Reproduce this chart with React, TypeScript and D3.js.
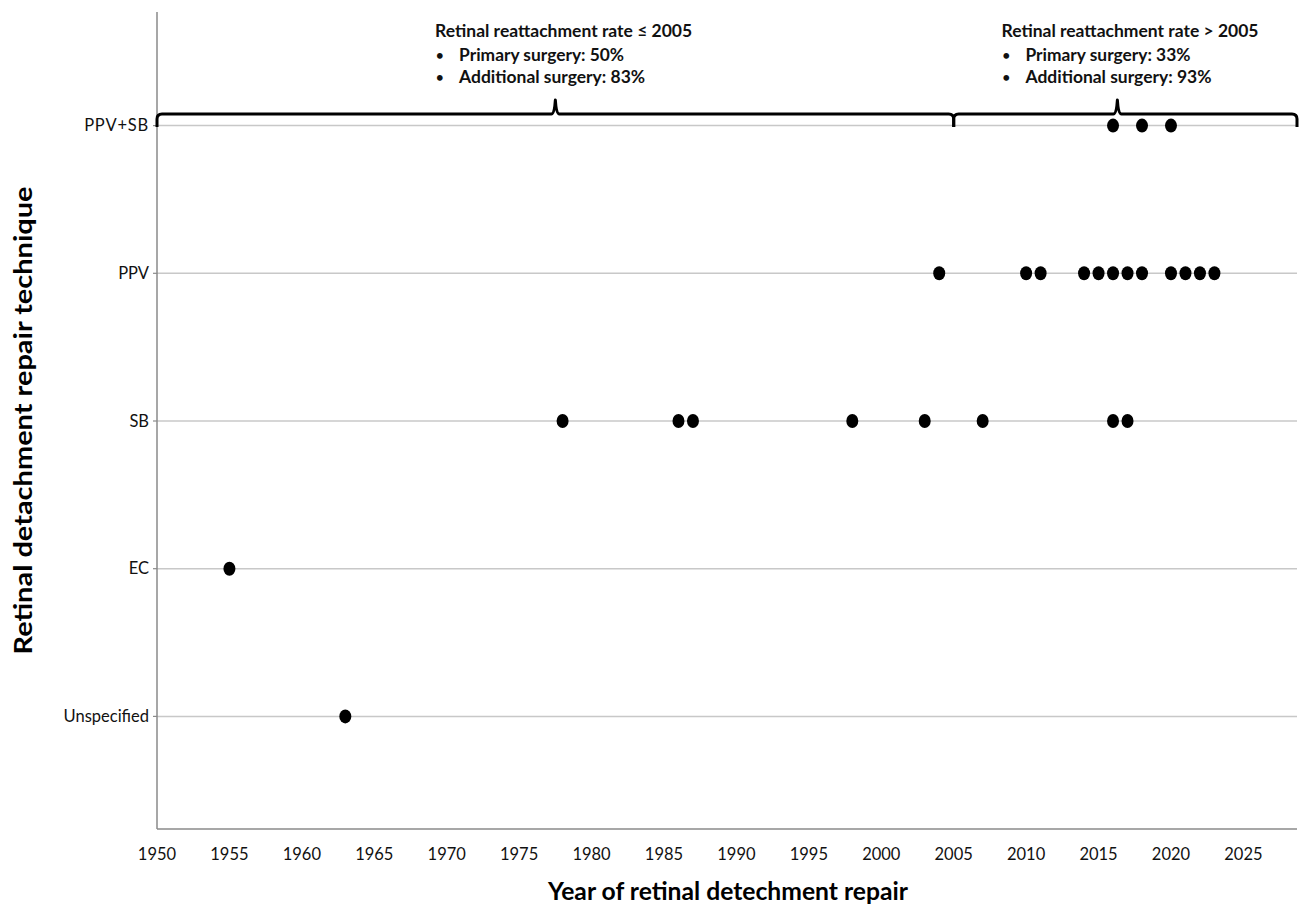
import React from "react";
import * as d3 from "d3";

const categories = ["PPV+SB", "PPV", "SB", "EC", "Unspecified"];
const ppvSbYears = [2016, 2018, 2020];
const ppvYears = [2004, 2010, 2011, 2014, 2015, 2016, 2017, 2018, 2020, 2021, 2022, 2023];
const sbYears = [1978, 1986, 1987, 1998, 2003, 2007, 2016, 2017];
const ecYears = [1955];
const unspecifiedYears = [1963];
const seriesYears = [ppvSbYears, ppvYears, sbYears, ecYears, unspecifiedYears];
const xTicks = d3.range(1950, 2026, 5);

const braceFrom = [1950, 2005];
const braceTo = [2005, 2028.7];
const bracePeak = [1977.5, 2016.3];
const braceTitles = ["Retinal reattachment rate \u2264 2005", "Retinal reattachment rate > 2005"];
const braceBullets = [
  ["Primary surgery: 50%", "Additional surgery: 83%"],
  ["Primary surgery: 33%", "Additional surgery: 93%"],
];
const textStartYears = [1969.2, 2008.3];

const W = 1299, H = 913;
const FONT = "Lato, 'Open Sans', sans-serif";

export default function App() {
  const x = d3.scaleLinear().domain([1950, 2028.7]).range([157, 1297]);
  const y = d3.scalePoint<string>().domain(categories).range([125.6, 716.4]);
  const axisTop = 12, axisBottom = 829;

  const bracePath = (i: number) => {
    const x0 = x(braceFrom[i]), x1 = x(braceTo[i]), p = x(bracePeak[i]);
    const yl = 114, ye = 127, yp = 100;
    const r = 5;
    return `M${x0},${ye} L${x0},${yl + r} Q${x0},${yl} ${x0 + r},${yl} L${p - 4},${yl} Q${p - 1},${yl} ${p},${yp} Q${p + 1},${yl} ${p + 4},${yl} L${x1 - r},${yl} Q${x1},${yl} ${x1},${yl + r} L${x1},${ye}`;
  };

  const bulletLens = [165, 186];

  return (
    <svg width={W} height={H} style={{ position: "absolute", left: 0, top: 0, background: "#fff" }} fontFamily={FONT}>
      {/* gridlines */}
      {categories.map((c) => (
        <line key={c} x1={x(1950)} x2={x(2028.7)} y1={y(c)} y2={y(c)} stroke="#c8c8c8" strokeWidth={1.5} />
      ))}
      {/* axes */}
      <line x1={x(1950)} x2={x(1950)} y1={axisTop} y2={axisBottom} stroke="#8a8a8a" strokeWidth={1.5} />
      <line x1={x(1950)} x2={x(2028.7)} y1={axisBottom} y2={axisBottom} stroke="#8a8a8a" strokeWidth={1.5} />
      {categories.map((c) => (
        <g key={"t" + c}>
          <line x1={x(1950) - 4} x2={x(1950)} y1={y(c)} y2={y(c)} stroke="#8a8a8a" strokeWidth={1.2} />
          <text x={x(1950) - 8} y={y(c)} dy="0.35em" textAnchor="end" fontSize={16.5} fill="#111" letterSpacing={c === "PPV+SB" ? 0.8 : 0}>{c}</text>
        </g>
      ))}
      {xTicks.map((t) => (
        <text key={t} x={x(t)} y={854} dy="0.35em" textAnchor="middle" fontSize={16.5} fill="#111">{t}</text>
      ))}
      {/* dots */}
      {categories.map((c, i) =>
        seriesYears[i].map((yr, j) => (
          <ellipse key={c + j} cx={x(yr)} cy={y(c)} rx={6} ry={7} fill="#000" />
        ))
      )}
      {/* braces */}
      {[0, 1].map((i) => (
        <g key={"b" + i}>
          <path d={bracePath(i)} fill="none" stroke="#000" strokeWidth={3} strokeLinejoin="round" />
          <text x={x(textStartYears[i])} y={31} dy="0.35em" fontSize={16.5} fontWeight={700} fill="#111" textLength={257} lengthAdjust="spacingAndGlyphs">{braceTitles[i]}</text>
          {braceBullets[i].map((b, k) => (
            <g key={k}>
              <text x={x(textStartYears[i]) + 1} y={55 + k * 22} dy="0.35em" fontSize={13} fontWeight={700} fill="#111">•</text>
              <text x={x(textStartYears[i]) + 24} y={55 + k * 22} dy="0.35em" fontSize={16.5} fontWeight={700} fill="#111" textLength={bulletLens[k]} lengthAdjust="spacingAndGlyphs">{b}</text>
            </g>
          ))}
        </g>
      ))}
      {/* axis titles */}
      <text x={728} y={891} dy="0.35em" textAnchor="middle" fontSize={25} fontWeight={700} fill="#000" textLength={360} lengthAdjust="spacingAndGlyphs">Year of retinal detechment repair</text>
      <text transform={`translate(23,${(axisTop + axisBottom) / 2}) rotate(-90)`} dy="0.35em" textAnchor="middle" fontSize={25} fontWeight={700} fill="#000" textLength={468} lengthAdjust="spacingAndGlyphs">Retinal detachment repair technique</text>
    </svg>
  );
}
